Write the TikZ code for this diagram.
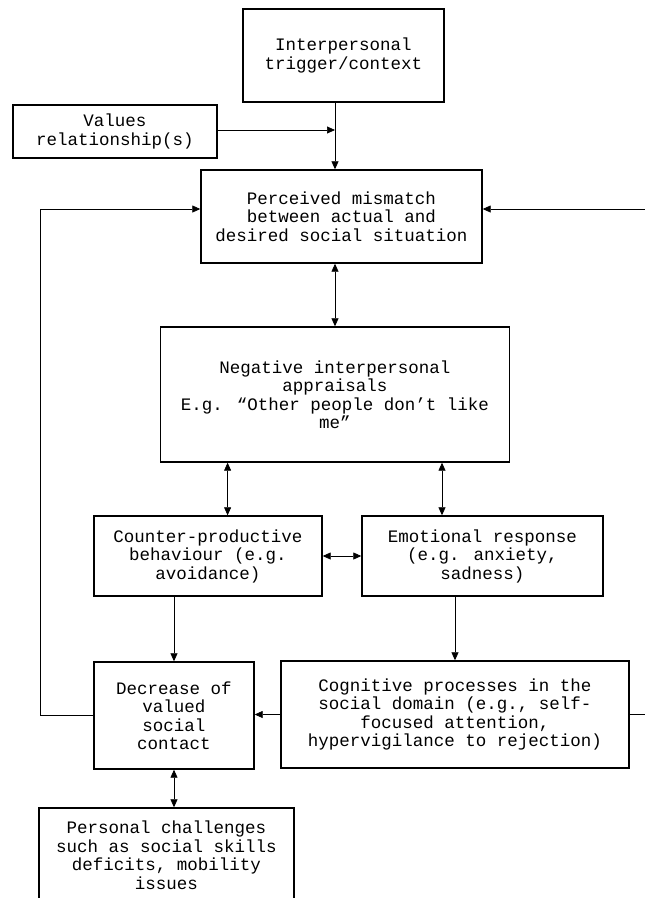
\documentclass[tikz,border=0pt]{standalone}
\usepackage{fontspec}
\setmainfont{Liberation Mono}
\usepackage{tikz}
\usetikzlibrary{arrows.meta}

\begin{document}
\begin{tikzpicture}[x=1pt, y=-1pt,
  every node/.style={align=center, font=\fontsize{17.5}{18.5}\selectfont},
  box/.style={draw, line width=1.4pt, inner sep=0pt},
  conn/.style={-{Triangle[length=8pt,width=7pt]}, line width=0.7pt},
  dconn/.style={{Triangle[length=8pt,width=7pt]}-{Triangle[length=8pt,width=7pt]}, line width=0.7pt}]
\useasboundingbox (0,0) rectangle (645,898);
\clip (0,0) rectangle (645,898);

% Top
\node[box, minimum width=201pt, minimum height=93pt] (trigger) at (343.5,55.5) {Interpersonal\\trigger/context};
\node[box, minimum width=204pt, minimum height=53pt] (values) at (115,131.5) {Values\\relationship(s)};
\node[box, minimum width=281pt, minimum height=93pt] (perceived) at (341.5,216.5) {Perceived mismatch\\between actual and\\desired social situation};

% Appraisals
\node[box, minimum width=349pt, minimum height=135pt] (appraisal) at (335,394.5) {Negative interpersonal\\appraisals\\E.g. “Other people don’t like\\me”};

% Responses
\node[box, minimum width=228pt, minimum height=80pt] (behaviour) at (208,556) {Counter-productive\\behaviour (e.g.\\avoidance)};
\node[box, minimum width=241pt, minimum height=80pt] (emotion) at (482.5,556) {Emotional response\\(e.g. anxiety,\\sadness)};

% Outcomes
\node[box, minimum width=160pt, minimum height=107pt] (decrease) at (174,715.5) {Decrease of\\valued\\social\\contact};
\node[box, minimum width=348pt, minimum height=107pt] (cognitive) at (455,714.5) {Cognitive processes in the\\social domain (e.g., self-\\focused attention,\\hypervigilance to rejection)};
\node[box, minimum width=255pt, minimum height=94pt] (personal) at (166.5,855) {Personal challenges\\such as social skills\\deficits, mobility\\issues};

% Helper coordinates
\coordinate (merge) at (335,130);
\coordinate (leftx) at (227.6,0);
\coordinate (rightx) at (442,0);
\coordinate (loopL) at (40,209);
\coordinate (loopR) at (665,209);

% Arrows
\draw[conn] (values.east |- merge) -- (merge);
\draw[conn] (trigger.south -| merge) -- (merge |- perceived.north);
\draw[dconn] (perceived.south -| merge) -- (merge |- appraisal.north);
\draw[dconn] (appraisal.south -| leftx) -- (behaviour.north -| leftx);
\draw[dconn] (appraisal.south -| rightx) -- (emotion.north -| rightx);
\draw[dconn] (behaviour) -- (emotion);
\draw[conn] (behaviour.south -| decrease) -- (decrease.north);
\draw[conn] (emotion.south -| cognitive) -- (cognitive.north);
\draw[conn] (cognitive.west) -- (cognitive.west -| decrease.east);
\draw[dconn] (decrease.south) -- (decrease.south |- personal.north);

% Feedback loops
\draw[conn] (decrease.west) -| (loopL) -- (loopL -| perceived.west);
\draw[conn] (cognitive.east) -| (loopR) -- (loopR -| perceived.east);
\end{tikzpicture}
\end{document}
